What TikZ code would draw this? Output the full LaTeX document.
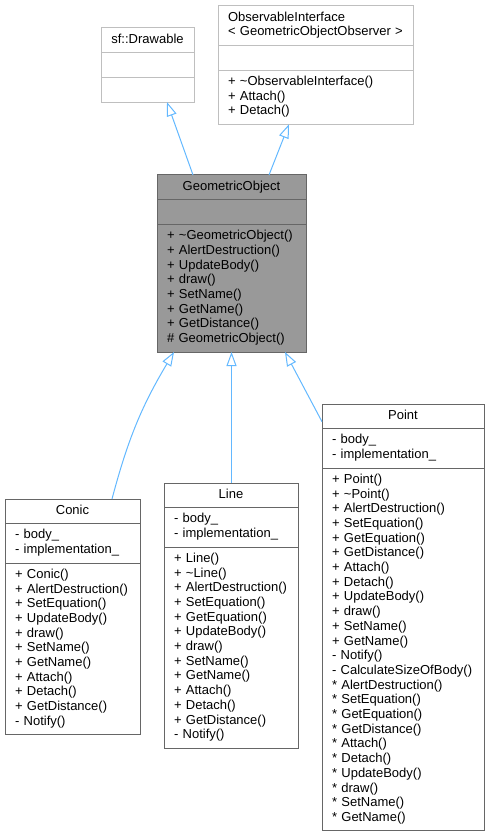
\documentclass[tikz,border=0pt]{standalone}
\usepackage{fontspec}
\setmainfont{Liberation Sans}
\usetikzlibrary{positioning,arrows.meta}
\definecolor{umlgrey}{HTML}{666666}
\definecolor{umlext}{HTML}{BFBFBF}
\definecolor{umlfill}{HTML}{999999}
\definecolor{umledge}{HTML}{63B8FF}
\begin{document}
\begin{tikzpicture}[x=1pt, y=-1pt]
\tikzset{umlbox/.style={draw=umlgrey, fill=white, line width=1pt, text width=#1, inner xsep=10pt, inner ysep=5pt, outer sep=0pt, align=left, font=\fontsize{13}{14.7}\selectfont, execute at begin node=\strut, execute at end node=\strut}}
\tikzset{umlhead/.style={umlbox=#1, align=center, anchor=north west}}
\tikzset{umlinherit/.style={draw=umledge, line width=1pt, -{Triangle[open, length=14pt, width=10pt]}}}
\useasboundingbox (0,0) rectangle (489,837);
% base classes
\node (dw)       [umlhead=73pt, draw=umlext]                        at (101,28) {sf::Drawable};
\node (dw-attr)  [umlbox=73pt, draw=umlext, below=0pt of dw]       {};
\node (dw-ops)   [umlbox=73pt, draw=umlext, below=0pt of dw-attr]  {};
\node (obs)      [umlhead=175pt, align=left, draw=umlext]           at (218,6) {ObservableInterface\\< GeometricObjectObserver >};
\node (obs-attr) [umlbox=175pt, draw=umlext, below=0pt of obs]      {};
\node (obs-ops)  [umlbox=175pt, draw=umlext, below=0pt of obs-attr] {+ \textasciitilde ObservableInterface()\\+ Attach()\\+ Detach()};
% geometric object
\node (go)       [umlhead=129pt, fill=umlfill]                      at (157,175) {GeometricObject};
\node (go-attr)  [umlbox=129pt, fill=umlfill, below=0pt of go]      {};
\node (go-ops)   [umlbox=129pt, fill=umlfill, below=0pt of go-attr] {+ \textasciitilde GeometricObject()\\+ AlertDestruction()\\+ UpdateBody()\\+ draw()\\+ SetName()\\+ GetName()\\+ GetDistance()\\\# GeometricObject()};
% derived classes
\node (conic)      [umlhead=115pt]                           at (5,499) {Conic};
\node (conic-attr) [umlbox=115pt, below=0pt of conic]       {- body\_\\- implementation\_};
\node (conic-ops)  [umlbox=115pt, below=0pt of conic-attr]  {+ Conic()\\+ AlertDestruction()\\+ SetEquation()\\+ UpdateBody()\\+ draw()\\+ SetName()\\+ GetName()\\+ Attach()\\+ Detach()\\+ GetDistance()\\- Notify()};
\node (line)       [umlhead=114pt]                           at (164,483) {Line};
\node (line-attr)  [umlbox=114pt, below=0pt of line]        {- body\_\\- implementation\_};
\node (line-ops)   [umlbox=114pt, below=0pt of line-attr]   {+ Line()\\+ \textasciitilde Line()\\+ AlertDestruction()\\+ SetEquation()\\+ GetEquation()\\+ UpdateBody()\\+ draw()\\+ SetName()\\+ GetName()\\+ Attach()\\+ Detach()\\+ GetDistance()\\- Notify()};
\node (point)      [umlhead=142pt]                           at (322,404) {Point};
\node (point-attr) [umlbox=142pt, below=0pt of point]       {- body\_\\- implementation\_};
\node (point-ops)  [umlbox=142pt, below=0pt of point-attr]  {+ Point()\\+ \textasciitilde Point()\\+ AlertDestruction()\\+ SetEquation()\\+ GetEquation()\\+ GetDistance()\\+ Attach()\\+ Detach()\\+ UpdateBody()\\+ draw()\\+ SetName()\\+ GetName()\\- Notify()\\- CalculateSizeOfBody()\\{*} AlertDestruction()\\{*} SetEquation()\\{*} GetEquation()\\{*} GetDistance()\\{*} Attach()\\{*} Detach()\\{*} UpdateBody()\\{*} draw()\\{*} SetName()\\{*} GetName()};
% inheritance
\draw[umlinherit] ([xshift=36pt]go.north west) -- ([xshift=66pt]dw-ops.south west);
\draw[umlinherit] ([xshift=112pt]go.north west) -- ([xshift=71pt]obs-ops.south west);
\draw[umlinherit] ([xshift=107pt]conic.north west) to[bend left=8] ([xshift=17pt]go-ops.south west);
\draw[umlinherit] ([xshift=0.5pt]line.north) -- ([xshift=0.5pt]line.north |- go-ops.south);
\draw[umlinherit] ([yshift=7pt]point.south west) -- ([xshift=128pt]go-ops.south west);
\end{tikzpicture}
\end{document}
